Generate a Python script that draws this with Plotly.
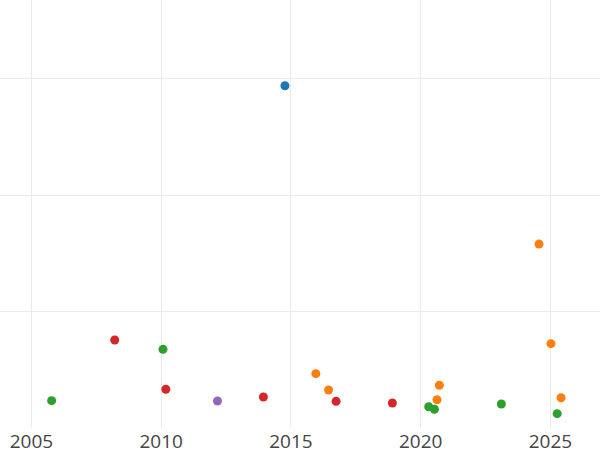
import plotly.graph_objects as go

colors = {"blue": "#1f77b4", "orange": "#ff7f0e", "green": "#2ca02c", "red": "#d62728", "purple": "#9467bd"}

blue_x = [2014.77]
blue_y = [29.42]

orange_x = [2015.96, 2016.45, 2020.63, 2020.72, 2024.56, 2025.02, 2025.41]
orange_y = [4.67, 3.27, 2.43, 3.67, 15.81, 7.25, 2.60]

green_x = [2005.78, 2010.07, 2020.31, 2020.53, 2023.11, 2025.26]
green_y = [2.35, 6.76, 1.83, 1.61, 2.06, 1.23]

red_x = [2008.21, 2010.18, 2013.94, 2016.74, 2018.91]
red_y = [7.56, 3.33, 2.66, 2.29, 2.15]

purple_x = [2012.17]
purple_y = [2.32]

series = [
    ("blue", blue_x, blue_y),
    ("orange", orange_x, orange_y),
    ("green", green_x, green_y),
    ("red", red_x, red_y),
    ("purple", purple_x, purple_y),
]

fig = go.Figure()
for name, xs, ys in series:
    fig.add_trace(go.Scatter(x=xs, y=ys, mode="markers", name=name,
                             marker=dict(color=colors[name], size=9, line=dict(width=0)),
                             showlegend=False))

fig.update_layout(
    width=600, height=450,
    margin=dict(l=0, r=0, t=0, b=22),
    plot_bgcolor="white", paper_bgcolor="white",
    font=dict(family="Open Sans", size=19, color="#444"),
    xaxis=dict(range=[2003.79, 2026.91], dtick=5, tick0=2005, showgrid=True, automargin=False,
               gridcolor="#ebebeb", gridwidth=1, zeroline=False, showline=False, ticks=""),
    yaxis=dict(range=[0, 36.79], dtick=10, tick0=0, showgrid=True, gridcolor="#ebebeb", automargin=False,
               gridwidth=1, zeroline=False, showline=False, showticklabels=False, ticks=""),
)

fig.write_html("out.html", config={"displayModeBar": False},
               post_script="document.body.style.margin='0';")
